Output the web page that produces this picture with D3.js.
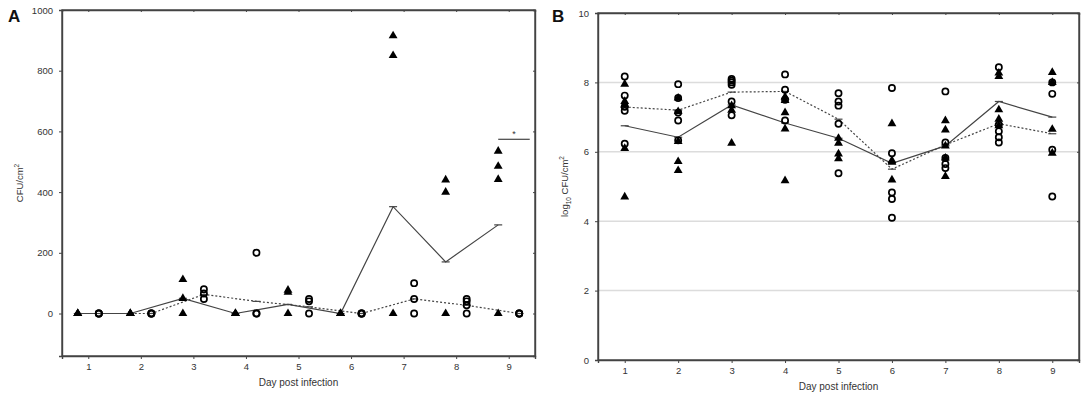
<!DOCTYPE html>
<html><head><meta charset="utf-8">
<script src="https://cdn.jsdelivr.net/npm/d3@7/dist/d3.min.js"></script>
<style>
body{margin:0;background:#fff;}
svg{display:block;font-family:"Liberation Sans",Arial,sans-serif;}
</style></head>
<body><svg id="c" width="1084" height="396"></svg>
<script>
const days = [1,2,3,4,5,6,7,8,9];
// Panel A: CFU/cm2
const triA = [[0,0,0],[0,0,0],[112,50,0],[0,0,0],[77,70,0],[0,0,0],[915,850,0],[440,400,0],[535,485,442,0]];
const circA = [[0,0,0],[0,0,0],[80,66,48],[200,0,0],[48,40,0],[0,0,0],[100,48,0],[48,40,27,0],[0,0,0]];
const meanTriA = [0,0,50,0,30,0,352,170,292];
const meanCircA = [0,0,63,40,22,0,48,27,0];
const ticksA = [0,200,400,600,800,1000];
// Panel B: log10 CFU/cm2
const triB = [[7.95,7.45,7.35,6.1,4.7],[7.55,7.16,6.3,5.72,5.46],[7.33,7.2,6.25],[7.58,7.48,7.13,6.66,5.17],[6.39,6.25,5.94,5.8],[6.81,5.75,5.7,5.19],[6.9,6.63,6.17,5.82,5.29],[8.27,8.17,7.21,6.94,6.75],[8.29,8.0,6.65,5.96]];
const circB = [[8.17,7.62,7.3,7.18,6.23],[7.95,7.55,7.13,6.9,6.33],[8.1,8.05,8.0,7.93,7.45,7.05],[8.23,7.79,7.5,6.9],[7.69,7.45,7.33,6.81,5.38],[7.84,5.96,4.83,4.64,4.1],[7.74,6.27,5.82,5.65,5.53],[8.44,6.78,6.59,6.42,6.27],[8.0,7.67,6.06,4.71]];
const meanTriB = [6.75,6.42,7.35,6.83,6.39,5.67,6.17,7.45,7.0];
const meanCircB = [7.29,7.2,7.72,7.74,6.94,5.5,6.2,6.81,6.52];
const ticksB = [0,2,4,6,8,10];
const sigA = {from:8.8, to:9.4, y:574, label:"*"};

const svg = d3.select("#c");
const axisCol = "#444";

function panel(opt){
  const {x0,x1,y0,y1,domY,ticks,tri,circ,mTri,mCirc,offT,offC,grid,yLabel,letter,letterX} = opt;
  const x = d3.scaleLinear().domain([0.5,9.5]).range([x0,x1]);
  const y = d3.scaleLinear().domain(domY).range([y1,y0]);
  const g = svg.append("g");
  if(grid){
    g.selectAll(".grid").data(ticks.filter(t=>t>domY[0]&&t<domY[1])).enter().append("line")
      .attr("x1",x0).attr("x2",x1).attr("y1",d=>y(d)).attr("y2",d=>y(d))
      .attr("stroke","#dcdcdc").attr("stroke-width",1.5);
  }
  // axes
  const ax = g.append("g").attr("transform",`translate(0,${y1})`)
    .call(d3.axisBottom(x).tickValues(days).tickSize(3).tickPadding(4).tickFormat(d3.format("d")));
  const ay = g.append("g").attr("transform",`translate(${x0},0)`)
    .call(d3.axisLeft(y).tickValues(ticks).tickSize(3).tickPadding(6).tickFormat(d3.format("d")));
  const at = g.append("g").attr("transform",`translate(0,${y0})`)
    .call(d3.axisBottom(x).tickValues(days).tickSize(2).tickFormat(""));
  const ar = g.append("g").attr("transform",`translate(${x1},0)`)
    .call(d3.axisLeft(y).tickValues(ticks).tickSize(2).tickFormat(""));
  [ax,ay,at,ar].forEach(a=>{
    a.select(".domain").attr("stroke",axisCol).attr("stroke-width",1.4);
    a.selectAll(".tick line").attr("stroke",axisCol);
    a.selectAll("text").attr("fill","#333").style("font-size","9.5px");
  });
  g.append("rect").attr("x",x0).attr("y",y0).attr("width",x1-x0).attr("height",y1-y0)
    .attr("fill","none").attr("stroke",axisCol).attr("stroke-width",1.4);
  // labels
  g.append("text").attr("x",(x0+x1)/2).attr("y",y1+30).attr("text-anchor","middle")
    .attr("fill","#333").style("font-size","10px").text("Day post infection");
  const yl = g.append("text").attr("transform",`translate(${opt.yLabX},${(y0+y1)/2}) rotate(-90)`)
    .attr("text-anchor","middle").attr("fill","#333").style("font-size","9.5px");
  yLabel(yl);
  g.append("text").attr("x",letterX).attr("y",22).attr("font-weight","bold")
    .style("font-size","17px").attr("fill","#111").text(letter);
  // lines
  const lineT = d3.line().x((d,i)=>x(days[i]+offT)).y(d=>y(d));
  const lineC = d3.line().x((d,i)=>x(days[i]+offC)).y(d=>y(d));
  g.append("path").attr("d",lineT(mTri)).attr("fill","none").attr("stroke","#444").attr("stroke-width",1.2);
  g.append("path").attr("d",lineC(mCirc)).attr("fill","none").attr("stroke","#444").attr("stroke-width",1.2).attr("stroke-dasharray","2,2");
  // mean dashes
  g.selectAll(".mt").data(mTri).enter().append("line")
    .attr("x1",(d,i)=>x(days[i]+offT)-4).attr("x2",(d,i)=>x(days[i]+offT)+4)
    .attr("y1",d=>y(d)).attr("y2",d=>y(d)).attr("stroke","#444").attr("stroke-width",1.2);
  g.selectAll(".mc").data(mCirc).enter().append("line")
    .attr("x1",(d,i)=>x(days[i]+offC)-4).attr("x2",(d,i)=>x(days[i]+offC)+4)
    .attr("y1",d=>y(d)).attr("y2",d=>y(d)).attr("stroke","#444").attr("stroke-width",1.2);
  // points
  const triPts = [], circPts = [];
  tri.forEach((arr,i)=>arr.forEach(v=>triPts.push([days[i]+offT,v])));
  circ.forEach((arr,i)=>arr.forEach(v=>circPts.push([days[i]+offC,v])));
  const triSym = d3.symbol().type(d3.symbolTriangle).size(34);
  g.selectAll(".tp").data(triPts).enter().append("path").attr("d",triSym)
    .attr("transform",d=>`translate(${x(d[0])},${y(d[1])})`).attr("fill","#000");
  g.selectAll(".cp").data(circPts).enter().append("circle")
    .attr("cx",d=>x(d[0])).attr("cy",d=>y(d[1])).attr("r",3.1)
    .attr("fill","none").attr("stroke","#000").attr("stroke-width",1.7);
  return {x,y,g};
}

const A = panel({x0:62,x1:535,y0:10,y1:356,domY:[-140,1000],ticks:ticksA,tri:triA,circ:circA,
  mTri:meanTriA,mCirc:meanCircA,offT:-0.2,offC:0.2,grid:false,letter:"A",letterX:8,yLabX:23,
  yLabel:t=>{t.append("tspan").text("CFU/cm");t.append("tspan").attr("dy",-4).style("font-size","6.5px").text("2");}});
A.g.append("line").attr("x1",A.x(sigA.from)).attr("x2",A.x(sigA.to)).attr("y1",A.y(sigA.y)).attr("y2",A.y(sigA.y))
  .attr("stroke","#444").attr("stroke-width",1.2);
A.g.append("text").attr("x",A.x((sigA.from+sigA.to)/2)).attr("y",A.y(sigA.y)-2).attr("text-anchor","middle")
  .style("font-size","9px").attr("fill","#333").text(sigA.label);

panel({x0:598,x1:1079,y0:13,y1:360,domY:[0,10],ticks:ticksB,tri:triB,circ:circB,
  mTri:meanTriB,mCirc:meanCircB,offT:0,offC:0,grid:true,letter:"B",letterX:552,yLabX:568,
  yLabel:t=>{t.append("tspan").text("log");t.append("tspan").attr("dy",3).style("font-size","6.5px").text("10");
    t.append("tspan").attr("dy",-3).text(" CFU/cm");t.append("tspan").attr("dy",-4).style("font-size","6.5px").text("2");}});
</script></body></html>
